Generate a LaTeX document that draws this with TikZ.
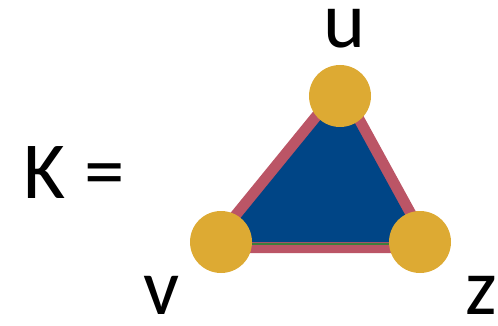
\documentclass[tikz,border=0pt]{standalone}
\usepackage{fontspec}
\setmainfont{Carlito}
\definecolor{triblue}{RGB}{0,69,134}
\definecolor{edgered}{RGB}{187,85,102}
\definecolor{vertgold}{RGB}{221,170,51}
\definecolor{edgegreen}{RGB}{61,125,60}
\begin{document}
\begin{tikzpicture}[x=1pt,y=-1pt]
	\tikzset{ vert/.style={circle, fill=vertgold, minimum size=62pt, inner sep=0pt},
		lbl/.style={font=\fontsize{80}{80}\selectfont, inner sep=0pt, anchor=base,
			text height=37pt, text depth=0pt} }
	\useasboundingbox (0,0) rectangle (498,326);
	\coordinate (cu) at (340,96);
	\coordinate (cv) at (221,242);
	\coordinate (cz) at (420,242);
	% edges, then the face over their inner half
	\draw[edgered, line width=22pt, line join=round] (cu) -- (cv) -- (cz) -- cycle;
	\fill[triblue] (cu) -- (cv) -- (cz) -- cycle;
	\draw[edgegreen, line width=2pt, transform canvas={yshift=-2pt}] (cv) -- (cz);
	\foreach \name in {u, v, z} {
			\node[vert] (\name) at (c\name) {};
		}
	\node[lbl] (lu) at (345,48) {u};
	\node[lbl] (lv) at (162,314) {v};
	\node[lbl] (lz) at (481,314) {z};
	\node[lbl, font=\fontsize{81}{81}\selectfont, text height=52pt] (k) at (74,198) {K =};
\end{tikzpicture}
\end{document}
